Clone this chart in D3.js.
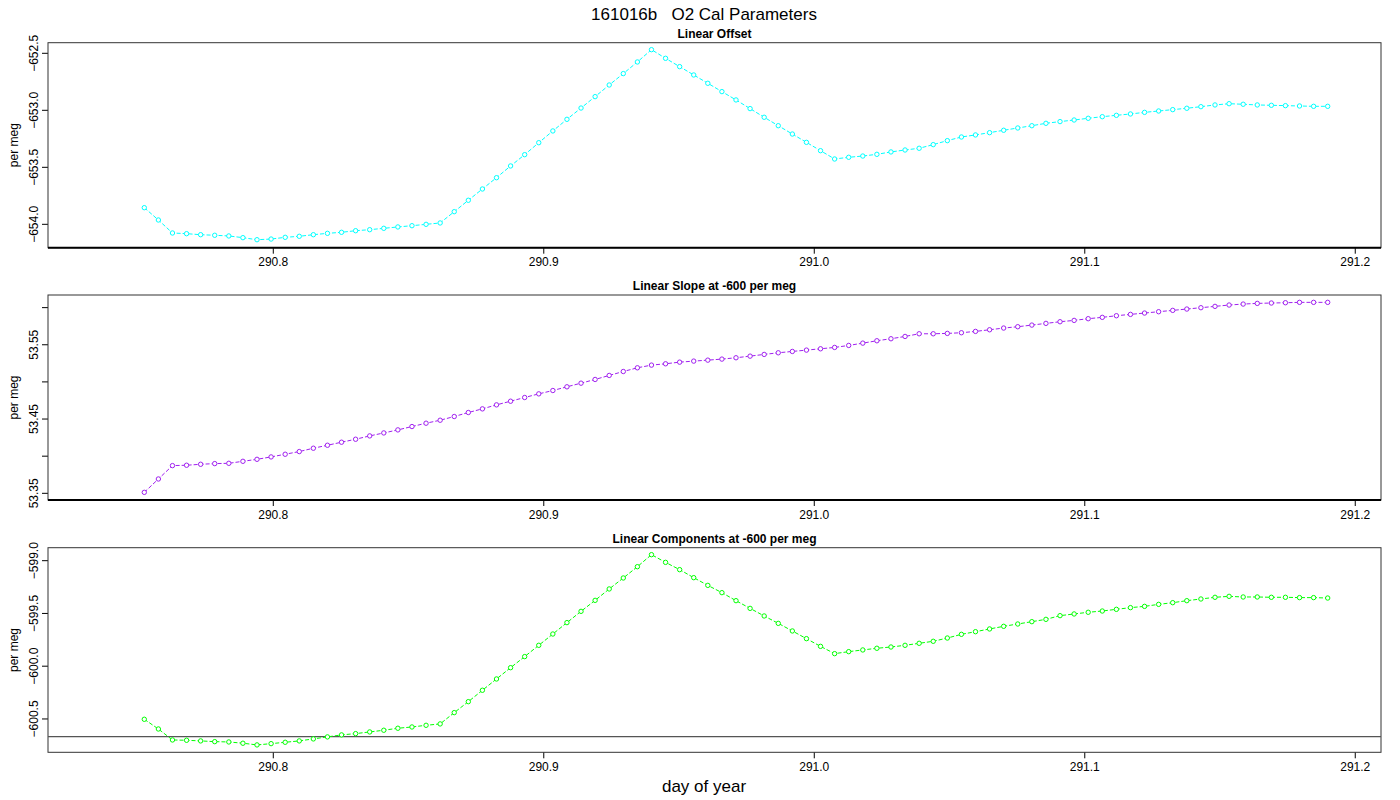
<!DOCTYPE html>
<html><head><meta charset="utf-8">
<script src="https://cdn.jsdelivr.net/npm/d3@7"></script>
<style>body{margin:0;background:#fff}svg{font-family:"Liberation Sans",Arial,sans-serif}</style>
</head><body><svg id="c" width="1400" height="800"></svg>
<script>
const startDay = 290.7525, stepDay = 0.0052083; // sample times: every 7.5 min
const offsetVals = [-653.854,-653.962,-654.076,-654.082,-654.091,-654.096,-654.102,-654.117,-654.135,-654.129,-654.114,-654.105,-654.091,-654.079,-654.070,-654.056,-654.047,-654.035,-654.023,-654.012,-654.000,-653.988,-653.889,-653.789,-653.690,-653.591,-653.488,-653.389,-653.284,-653.181,-653.079,-652.980,-652.880,-652.778,-652.678,-652.576,-652.468,-652.544,-652.617,-652.690,-652.763,-652.836,-652.909,-652.985,-653.061,-653.135,-653.208,-653.281,-653.354,-653.427,-653.412,-653.401,-653.386,-653.365,-653.348,-653.333,-653.301,-653.266,-653.234,-653.216,-653.196,-653.175,-653.155,-653.135,-653.114,-653.099,-653.085,-653.070,-653.056,-653.044,-653.032,-653.018,-653.006,-652.994,-652.982,-652.968,-652.953,-652.942,-652.947,-652.953,-652.956,-652.959,-652.962,-652.965,-652.965];
const slopeVals = [53.3513,53.3693,53.3873,53.3878,53.3891,53.3900,53.3904,53.3931,53.3958,53.3990,53.4026,53.4062,53.4107,53.4147,53.4188,53.4228,53.4273,53.4313,53.4354,53.4399,53.4444,53.4484,53.4534,53.4588,53.4637,53.4691,53.4740,53.4790,53.4839,53.4884,53.4934,53.4983,53.5033,53.5087,53.5140,53.5190,53.5226,53.5244,53.5266,53.5280,53.5293,53.5307,53.5325,53.5347,53.5370,53.5392,53.5410,53.5428,53.5446,53.5464,53.5491,53.5522,53.5554,53.5581,53.5612,53.5648,53.5648,53.5653,53.5662,53.5680,53.5702,53.5725,53.5743,53.5765,53.5788,53.5810,53.5828,53.5851,53.5869,53.5891,53.5909,53.5927,53.5945,53.5963,53.5981,53.5999,53.6017,53.6035,53.6048,53.6057,53.6062,53.6066,53.6071,53.6071,53.6071];
const compVals = [-600.503,-600.595,-600.699,-600.702,-600.708,-600.715,-600.718,-600.730,-600.746,-600.734,-600.721,-600.708,-600.689,-600.670,-600.651,-600.639,-600.623,-600.607,-600.588,-600.576,-600.560,-600.547,-600.440,-600.336,-600.228,-600.121,-600.014,-599.909,-599.802,-599.695,-599.587,-599.480,-599.376,-599.268,-599.164,-599.057,-598.943,-599.016,-599.085,-599.161,-599.234,-599.303,-599.379,-599.452,-599.524,-599.594,-599.666,-599.739,-599.812,-599.881,-599.862,-599.846,-599.830,-599.818,-599.802,-599.783,-599.764,-599.733,-599.698,-599.673,-599.647,-599.622,-599.600,-599.578,-599.556,-599.521,-599.505,-599.489,-599.477,-599.461,-599.445,-599.433,-599.414,-599.398,-599.379,-599.363,-599.347,-599.338,-599.344,-599.344,-599.347,-599.347,-599.350,-599.350,-599.354];
const xTicks = [290.8, 290.9, 291.0, 291.1, 291.2];
const panels = [
 {title:"Linear Offset", vals:offsetVals, color:"#00FFFF", dom:[-654.205,-652.407], ticks:[-654.0,-653.5,-653.0,-652.5], fmt:".1f", top:42.7, bot:247.7, thick:true},
 {title:"Linear Slope at -600 per meg", vals:slopeVals, color:"#A020F0", dom:[53.341,53.617], ticks:[53.35,53.40,53.45,53.50,53.55,53.60], labeled:[53.35,53.45,53.55], fmt:".2f", top:295, bot:500, thick:true},
 {title:"Linear Components at -600 per meg", vals:compVals, color:"#00FF00", dom:[-600.816,-598.877], ticks:[-600.5,-600.0,-599.5,-599.0], fmt:".1f", top:547.7, bot:752.3, hline:-600.667}
];
const svg = d3.select("#c");
const L=48, R=1381;
const x = d3.scaleLinear().domain([290.7169, 291.2097]).range([L,R]);
svg.append("text").attr("x",704).attr("y",20).attr("text-anchor","middle").attr("font-size",17).style("white-space","pre").attr("xml:space","preserve").text("161016b   O2 Cal Parameters");
panels.forEach(p=>{
  const y = d3.scaleLinear().domain(p.dom).range([p.bot,p.top]);
  const g = svg.append("g");
  const xa = g.append("g").attr("transform",`translate(0,${p.bot})`).call(d3.axisBottom(x).tickValues(xTicks).tickFormat(d3.format(".1f")).tickSize(6).tickPadding(4));
  xa.select(".domain").remove();
  xa.selectAll("text").attr("font-size",12).attr("font-family","Liberation Sans, Arial");
  const ya = g.append("g").attr("transform",`translate(${L},0)`).call(d3.axisLeft(y).tickValues(p.ticks).tickFormat(d=> (!p.labeled || p.labeled.some(v=>Math.abs(v-d)<1e-9)) ? d3.format(p.fmt)(d) : "").tickSize(6).tickPadding(3));
  ya.select(".domain").remove();
  ya.selectAll("text").attr("font-size",12).attr("font-family","Liberation Sans, Arial")
    .attr("text-anchor","middle").attr("transform",function(d){return `translate(${-14},${y(d)}) rotate(-90)`;}).attr("x",0).attr("y",0).attr("dy","0.35em");
  ya.selectAll(".tick").attr("transform","translate(0,0)");
  ya.selectAll(".tick line").attr("y1",d=>y(d)).attr("y2",d=>y(d));
  g.append("rect").attr("x",L).attr("y",p.top).attr("width",R-L).attr("height",p.bot-p.top).attr("fill","none").attr("stroke","#333").attr("stroke-width",1);
  if(p.thick) g.append("line").attr("x1",L).attr("x2",R).attr("y1",p.bot).attr("y2",p.bot).attr("stroke","#000").attr("stroke-width",2);
  if(p.hline!==undefined) g.append("line").attr("x1",L).attr("x2",R).attr("y1",y(p.hline)).attr("y2",y(p.hline)).attr("stroke","#555").attr("stroke-width",1.2);
  g.append("text").attr("x",(L+R)/2).attr("y",p.top-5).attr("text-anchor","middle").attr("font-size",12).attr("font-weight","bold").text(p.title);
  g.append("text").attr("transform",`translate(18,${(p.top+p.bot)/2}) rotate(-90)`).attr("text-anchor","middle").attr("font-size",12).text("per meg");
  const data = p.vals.map((v,i)=>[startDay+i*stepDay, v]);
  g.append("path").datum(data).attr("d",d3.line().x(d=>x(d[0])).y(d=>y(d[1]))).attr("fill","none").attr("stroke",p.color).attr("stroke-width",1).attr("stroke-dasharray","4,2");
  g.selectAll("circle").data(data).join("circle").attr("cx",d=>x(d[0])).attr("cy",d=>y(d[1])).attr("r",2.2).attr("fill","#fff").attr("stroke",p.color).attr("stroke-width",1);
});
svg.append("text").attr("x",704).attr("y",792).attr("text-anchor","middle").attr("font-size",17).text("day of year");
</script></body></html>
